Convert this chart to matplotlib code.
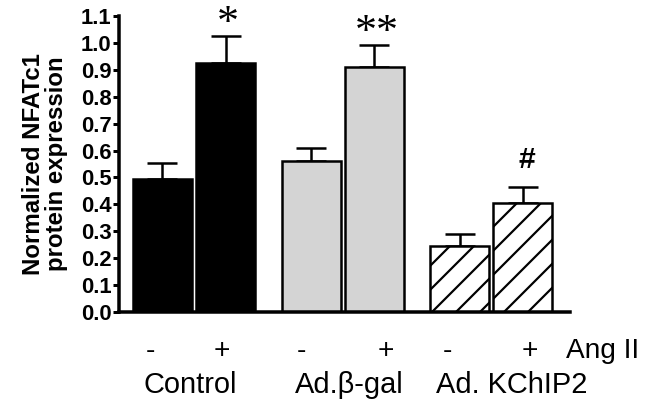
import matplotlib
matplotlib.use("Agg")
import matplotlib.pyplot as plt
import matplotlib.transforms as mtransforms
import numpy as np

# ---- data ----
groups = ["Control", "Ad.β-gal", "Ad. KChIP2"]
treatment_labels = ["-", "+"]
means = [0.495, 0.925, 0.563, 0.912, 0.247, 0.406]
errors = [0.060, 0.100, 0.045, 0.080, 0.042, 0.060]
annotations = ["", "*", "", "**", "", "#"]
yticks = [0.0, 0.1, 0.2, 0.3, 0.4, 0.5, 0.6, 0.7, 0.8, 0.9, 1.0, 1.1]

plt.rcParams["font.family"] = ["Liberation Sans", "DejaVu Sans"]
plt.rcParams["hatch.linewidth"] = 2.2

W, H, DPI = 648, 404, 72
fig = plt.figure(figsize=(W / DPI, H / DPI), dpi=DPI)
ax = fig.add_axes([119 / W, 1 - 312 / H, (570 - 119) / W, (312 - 16) / H])

# bar layout (units of one bar width)
group_pitch = 2.52
pair_pitch = 1.07
first = 0.737
xpos = []
for g in range(len(groups)):
    for t in range(2):
        xpos.append(first + g * group_pitch + t * pair_pitch)
xpos = np.array(xpos)

faces = ["black", "black", "#d4d4d4", "#d4d4d4", "white", "white"]
hatches = [None, None, None, None, "/", "/"]

ax.errorbar(xpos, means, yerr=[np.zeros(len(means)), errors], fmt="none",
            ecolor="black", elinewidth=2.5, capsize=15, capthick=2.5, zorder=1)
for x, m, fc, h in zip(xpos, means, faces, hatches):
    ax.bar(x, m, width=1.0, color=fc, edgecolor="black", linewidth=2.5,
           hatch=h, zorder=2)

ax.set_xlim(0, 7.644)
ax.set_ylim(0, 1.1)
ax.set_yticks(yticks)
ax.set_yticklabels([f"{v:.1f}" for v in yticks], fontweight="bold", fontsize=22)
ax.set_xticks([])
for s in ["top", "right"]:
    ax.spines[s].set_visible(False)
for s in ["left", "bottom"]:
    ax.spines[s].set_linewidth(3.5)
ax.tick_params(axis="y", direction="out", length=6, width=3, pad=1.5)

# significance marks
for x, m, e, a in zip(xpos, means, errors, annotations):
    if a == "#":
        ax.text(x + 0.07, m + e + 0.1, a, ha="center", va="center",
                fontsize=30, fontweight="bold", clip_on=False)
    elif a:
        ax.text(x + 0.04, m + e + 0.005, a, ha="center", va="baseline",
                fontsize=44, clip_on=False, family=["Liberation Serif"])

trans = mtransforms.blended_transform_factory(ax.transData, fig.transFigure)
# treatment row
sign_x = [0.525, 1.746, 3.10, 4.525, 5.56, 6.97]
for i, x in enumerate(sign_x):
    ax.text(x, 1 - 358 / H, treatment_labels[i % 2], transform=trans,
            ha="center", va="baseline", fontsize=28, clip_on=False)
ax.text(8.19, 1 - 358 / H, "Ang II", transform=trans, ha="center",
        va="baseline", fontsize=28, clip_on=False)
# group row
group_x = [1.20, 3.90, 6.66]
for gx, g in zip(group_x, groups):
    ax.text(gx, 1 - 393 / H, g, transform=trans, ha="center", va="baseline",
            fontsize=29, clip_on=False)

fig.text(45 / W, 1 - 164 / H, "Normalized NFATc1\nprotein expression",
         rotation=90, ha="center", va="center", multialignment="center",
         fontsize=24, fontweight="bold", linespacing=1.05)

fig.savefig("out.png", dpi=DPI)
